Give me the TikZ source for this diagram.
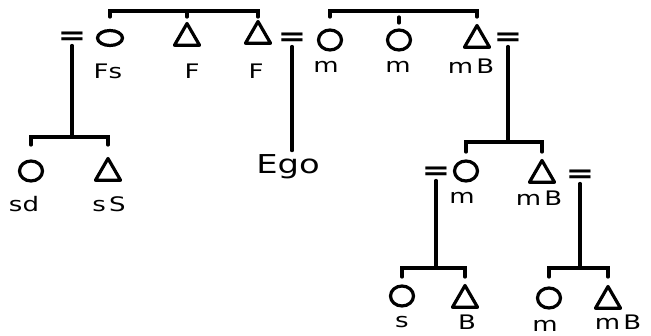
\documentclass[tikz,border=0pt]{standalone}
\usepackage{fontspec}
\setmainfont{DejaVu Sans}
\newfontfamily\hand{DejaVu Sans}[FakeStretch=1.3]
\usetikzlibrary{shapes.geometric}
\begin{document}
\begin{tikzpicture}[
    x=1pt, y=-1pt,
    female/.style={ellipse, draw, line width=3.2pt, minimum width=23pt, minimum height=20pt, inner sep=0pt},
    male/.style={regular polygon, regular polygon sides=3, draw, line width=3.2pt, line join=round, minimum size=29pt, inner sep=0pt},
    lbl/.style={font=\hand\fontsize{20}{22}\selectfont, inner sep=0pt},
    wed/.style={font=\hand\fontsize{26}{26}\bfseries, inner sep=1pt},
    kin/.style={line width=3.2pt, line cap=round},
]
\useasboundingbox (0,0) rectangle (651,335);

\node[wed] (wedA) at (72,38) {=};
\node[female, minimum width=25pt, minimum height=15pt] (FZ) at (110,38) {};
\node[male] (F1) at (187,38) {};
\node[male] (F2) at (258,36) {};
\node[wed] (wedB) at (292,39) {=};
\node[female] (M1) at (330,40) {};
\node[female] (M2) at (399,40) {};
\node[male] (MB) at (477,40) {};
\node[wed] (wedC) at (508,39) {=};

\node[lbl] (FZl) at (108,71) {Fs};
\node[lbl] (F1l) at (192,71) {F};
\node[lbl] (F2l) at (256,71) {F};
\node[lbl] (M1l) at (326,67) {m};
\node[lbl] (M2l) at (398,67) {m};
\node[lbl] (MBl) at (471,66) {m\,B};

\coordinate (barA) at (0,11);
\coordinate (stubA) at (0,17);
\coordinate (tickA) at (0,23);
\draw[kin] (FZ |- stubA) -- (FZ |- barA) -- (F2 |- barA) -- (F2 |- stubA);
\draw[kin] (F1 |- barA) -- (F1 |- stubA);
\draw[kin] (M1 |- stubA) -- (M1 |- barA) -- (MB |- barA) -- (MB |- stubA);
\draw[kin] (M2 |- stubA) -- (M2 |- tickA);

\node[female] (SD) at (31,171) {};
\node[male] (SS) at (108,173) {};
\node[lbl] (SDl) at (24,204) {sd};
\node[lbl] (SSl) at (109,204) {s\,S};
\coordinate (barB) at (0,137);
\coordinate (stubB) at (0,145);
\draw[kin] (wedA.south) -- (wedA |- barB);
\draw[kin] (SD |- stubB) -- (SD |- barB) -- (SS |- barB) -- (SS |- stubB);

\node[font=\hand\fontsize{26}{28}\selectfont, inner sep=4pt] (Ego) at (288,167) {Ego};
\draw[kin] (wedB.south) -- (wedB |- Ego.north);

\node[wed] (wedD) at (436,173) {=};
\node[female] (M3) at (466,171) {};
\node[male] (MB2) at (542,175) {};
\node[wed] (wedE) at (580,176) {=};
\node[lbl] (M3l) at (462,198) {m};
\node[lbl] (MB2l) at (539,198) {m\,B};
\coordinate (barC) at (0,142);
\coordinate (stubC) at (0,152);
\draw[kin] (wedC.south) -- (wedC |- barC);
\draw[kin] (M3 |- stubC) -- (M3 |- barC) -- (MB2 |- barC) -- (MB2 |- stubC);

\node[female] (S) at (402,296) {};
\node[male] (B) at (465,300) {};
\node[female] (M4) at (549,298) {};
\node[male] (MB3) at (608,301) {};
\node[lbl] (Sl) at (402,322) {s};
\node[lbl] (Bl) at (467,322) {B};
\node[lbl] (M4l) at (545,326) {m};
\node[lbl] (MB3l) at (618,322) {m\,B};
\coordinate (barD) at (0,268);
\coordinate (stubD) at (0,277);
\draw[kin] (wedD.south) -- (wedD |- barD);
\draw[kin] (S |- stubD) -- (S |- barD) -- (B |- barD) -- (B |- stubD);
\draw[kin] (wedE.south) -- (wedE |- barD);
\draw[kin] (M4 |- stubD) -- (M4 |- barD) -- (MB3 |- barD) -- (MB3 |- stubD);
\end{tikzpicture}
\end{document}
